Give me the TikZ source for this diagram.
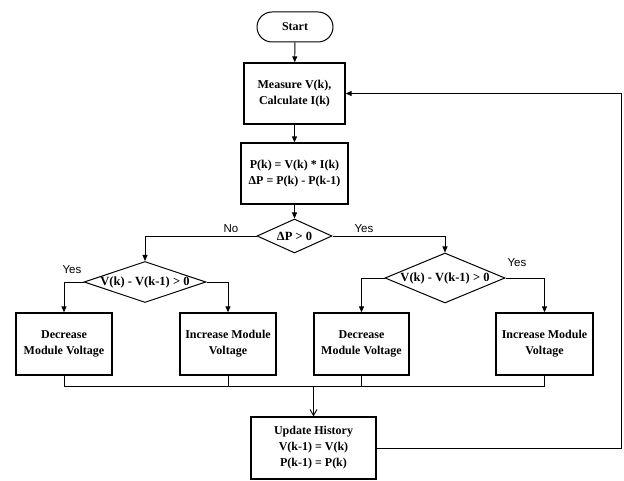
\documentclass[tikz,border=0pt]{standalone}
\usepackage{fontspec}
\setmainfont{Liberation Serif}
\newfontfamily\labelfont{Liberation Sans}
\usetikzlibrary{arrows.meta,shapes.geometric}
\begin{document}
\begin{tikzpicture}[x=1pt,y=-1pt,
  box/.style={draw,line width=1.3pt,font=\fontsize{12}{16}\selectfont\bfseries,align=center,inner sep=0pt},
  dec/.style={draw,diamond,line width=1pt,inner sep=0pt},
  dectext/.style={font=\fontsize{12.5}{14}\selectfont\bfseries},
  conn/.style={line width=0.9pt},
  arr/.style={conn,-{Triangle[width=5pt,length=6pt]}},
  openarr/.style={conn,-{Straight Barb[width=7pt,length=6pt]}},
  lab/.style={font=\labelfont\fontsize{11.5}{13}\selectfont}]
\useasboundingbox (0,0) rectangle (624,481);

\node[box,line width=1pt,rounded corners=15pt,minimum width=76pt,minimum height=30pt] (start) at (295,27) {Start};
\node[box,minimum width=101pt,minimum height=61pt] (meas) at (294.5,93.5) {Measure V(k),\\Calculate I(k)};
\node[box,minimum width=107pt,minimum height=61pt] (calc) at (294.5,173.5) {P(k) = V(k) * I(k)\\ΔP = P(k) - P(k-1)};
\node[dec,minimum width=75pt,minimum height=34pt] (dp) at (294.5,236) {};
\node[dectext] at (dp) {ΔP > 0};
\node[dec,minimum width=122pt,minimum height=41pt] (dl) at (145,282) {};
\node[dectext] at (dl) {V(k) - V(k-1) > 0};
\node[dec,minimum width=120pt,minimum height=50pt] (dr) at (445,278) {};
\node[dectext] at (dr) {V(k) - V(k-1) > 0};

\node[box,minimum width=96pt,minimum height=62pt] (b1) at (64,344) {Decrease\\Module Voltage};
\node[box,minimum width=96pt,minimum height=62pt] (b2) at (228,344) {Increase Module\\Voltage};
\node[box,minimum width=95pt,minimum height=62pt] (b3) at (361.5,344) {Decrease\\Module Voltage};
\node[box,minimum width=97pt,minimum height=62pt] (b4) at (544.5,344) {Increase Module\\Voltage};
\node[box,minimum width=125pt,minimum height=62pt] (upd) at (313.5,448) {Update History\\V(k-1) = V(k)\\P(k-1) = P(k)};

\coordinate (m) at (0,386);
\coordinate (fb) at (621,93.5);

\draw[arr] (start) -- (meas);
\draw[arr] (meas) -- (calc);
\draw[arr] (calc) -- (dp);
\draw[arr] (dp.west) -| (dl.north);
\draw[arr] (dp.east) -| (dr.north);
\draw[arr] (dl.west) -| (b1.north);
\draw[arr] (dl.east) -| (b2.north);
\draw[arr] (dr.west) -| (b3.north);
\draw[arr] (dr.east) -| (b4.north);

\draw[conn] (b1.south) |- (b4.south |- m) -- (b4.south);
\draw[conn] (b2.south) -- (b2.south |- m);
\draw[conn] (b3.south) -- (b3.south |- m);
\draw[openarr] (upd.north |- m) -- (upd.north);
\draw[arr] (upd.east) -| (fb) -- (meas.east);

\node[lab] at (231,229) {No};
\node[lab] at (364,229) {Yes};
\node[lab] at (72,270) {Yes};
\node[lab] at (517,263) {Yes};
\end{tikzpicture}
\end{document}
